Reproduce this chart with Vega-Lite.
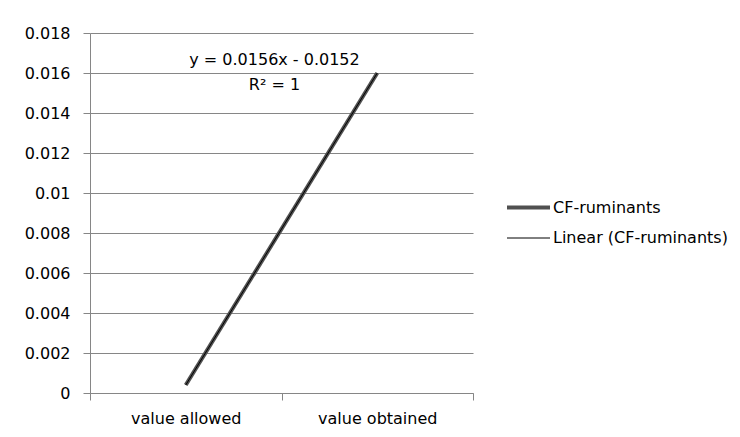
{
  "$schema": "https://vega.github.io/schema/vega-lite/v6.json",
  "autosize": {"type": "none"},
  "width": 383,
  "height": 360,
  "padding": {"left": 90, "top": 33, "right": 267, "bottom": 44},
  "background": "#ffffff",
  "config": {
    "view": {"stroke": null},
    "font": "DejaVu Sans",
    "axis": {
      "labelFont": "DejaVu Sans",
      "labelFontSize": 16,
      "labelColor": "#000000",
      "domainColor": "#868686",
      "tickColor": "#868686",
      "gridColor": "#868686",
      "gridOpacity": 1,
      "domainWidth": 1,
      "tickWidth": 1,
      "gridWidth": 1,
      "labelOverlap": false
    },
    "legend": {"labelFont": "DejaVu Sans", "labelFontSize": 16, "labelColor": "#000000", "labelLimit": 300}
  },
  "datasets": {
    "series": [
      {"category": "value allowed", "series": "CF-ruminants", "value": 0.0004},
      {"category": "value obtained", "series": "CF-ruminants", "value": 0.016},
      {"category": "value allowed", "series": "Linear (CF-ruminants)", "value": 0.0004},
      {"category": "value obtained", "series": "Linear (CF-ruminants)", "value": 0.016}
    ],
    "labels": [
      {"category": "value obtained", "text": "y = 0.0156x - 0.0152", "value": 0.01665},
      {"category": "value obtained", "text": "R² = 1", "value": 0.0154}
    ]
  },
  "layer": [
    {
      "data": {"name": "series"},
      "mark": {"type": "line"},
      "encoding": {
        "x": {
          "field": "category",
          "type": "nominal",
          "sort": ["value allowed", "value obtained"],
          "scale": {"paddingInner": 0, "paddingOuter": 0},
          "axis": {
            "title": null,
            "labelAngle": 0,
            "tickBand": "extent",
            "tickSize": 7,
            "labelPadding": 10,
            "grid": false
          }
        },
        "y": {
          "field": "value",
          "type": "quantitative",
          "scale": {"domain": [0, 0.018], "nice": false, "zero": true},
          "axis": {
            "title": null,
            "values": [0, 0.002, 0.004, 0.006, 0.008, 0.01, 0.012, 0.014, 0.016, 0.018],
            "tickCount": 20,
            "format": ".3~f",
            "tickSize": 7,
            "labelPadding": 13,
            "grid": true
          }
        },
        "color": {
          "field": "series",
          "type": "nominal",
          "scale": {"domain": ["CF-ruminants", "Linear (CF-ruminants)"], "range": ["#505050", "#000000"]},
          "legend": {
            "title": null,
            "orient": "none",
            "legendX": 415,
            "legendY": 151,
            "symbolType": "stroke",
            "symbolSize": 1849,
            "labelOffset": 1,
            "rowPadding": -1
          }
        },
        "strokeWidth": {
          "field": "series",
          "type": "nominal",
          "scale": {"domain": ["CF-ruminants", "Linear (CF-ruminants)"], "range": [4, 1]},
          "legend": {
            "title": null,
            "orient": "none",
            "legendX": 415,
            "legendY": 151,
            "symbolType": "stroke",
            "symbolSize": 1849,
            "labelOffset": 1,
            "rowPadding": -1
          }
        }
      }
    },
    {
      "data": {"name": "labels"},
      "mark": {"type": "text", "font": "DejaVu Sans", "fontSize": 16, "color": "#000000", "align": "center", "baseline": "middle", "dx": -7},
      "encoding": {
        "x": {"field": "category", "type": "nominal", "bandPosition": 0},
        "y": {"field": "value", "type": "quantitative"},
        "text": {"field": "text", "type": "nominal"}
      }
    }
  ]
}
